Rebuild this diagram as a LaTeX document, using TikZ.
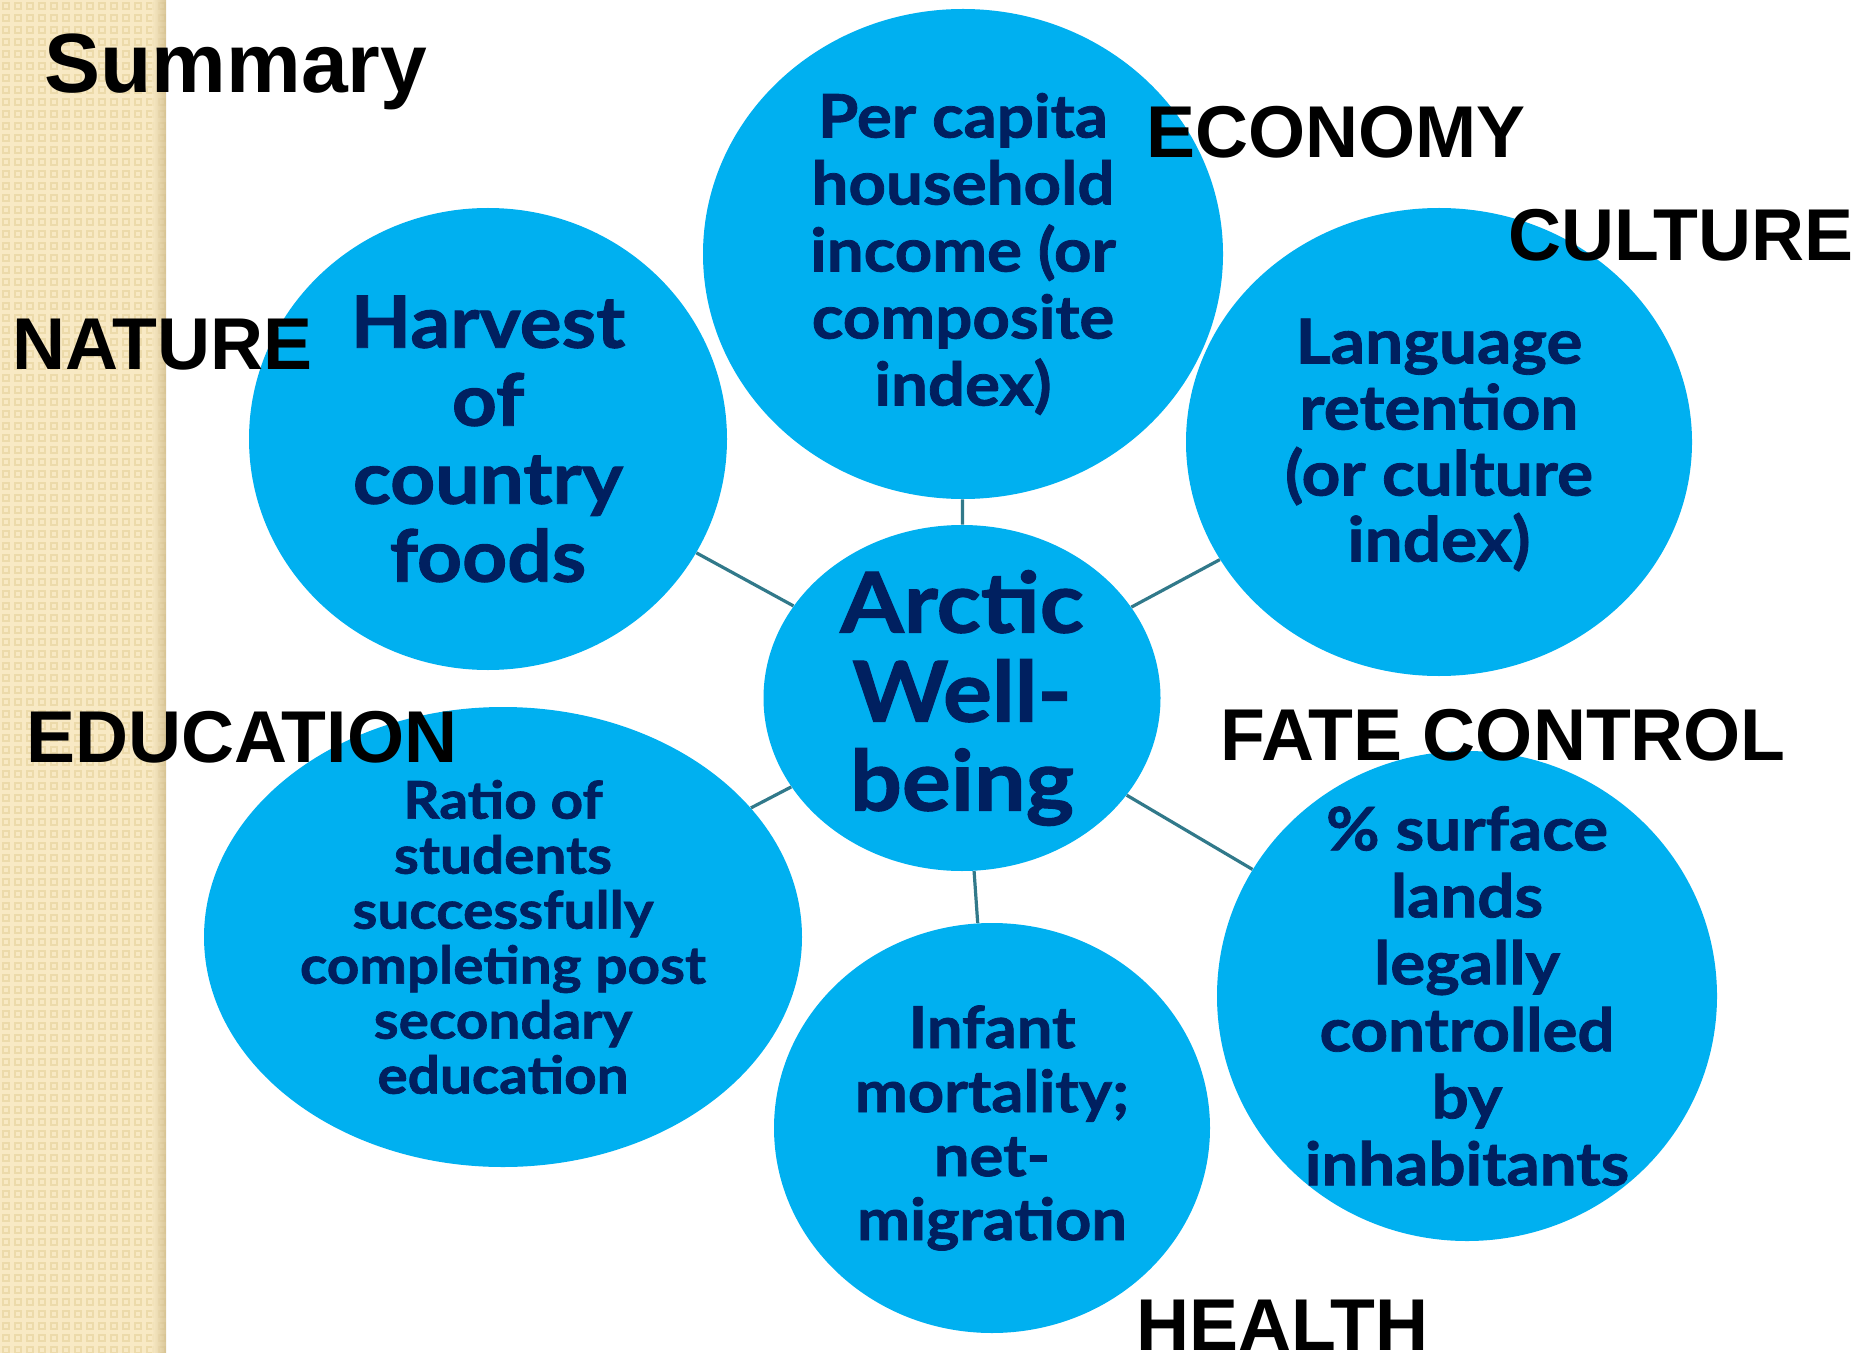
\documentclass[tikz,border=0pt]{standalone}
\usepackage{fontspec}
\setmainfont{Liberation Sans}
\newfontfamily\gill{Lato}[BoldFeatures={FakeStretch=1.09,FakeBold=1.3}]
\usetikzlibrary{shapes.geometric}
\definecolor{bub}{RGB}{0,176,240}
\definecolor{navy}{RGB}{0,32,96}
\definecolor{connc}{RGB}{49,121,138}
\definecolor{strip}{RGB}{248,233,196}
\definecolor{stripd}{RGB}{236,218,170}
\definecolor{stripsh}{RGB}{205,184,135}
\begin{document}
\begin{tikzpicture}[x=0.5pt,y=-0.5pt,
 bubble/.style={ellipse, fill=bub, inner sep=0pt},
 btext/.style={text=navy, align=center, inner sep=0pt},
 lab/.style={anchor=base west, font=\bfseries\fontsize{36.7}{40}\selectfont, inner sep=0pt},
 connector/.style={draw=connc, line width=1.6pt}]
\useasboundingbox (0,0) rectangle (1862,1353);
\fill[white] (0,0) rectangle (1862,1353);
% textured strip
\fill[strip] (0,0) rectangle (166,1353);
\foreach \i in {0,...,13}{
  \foreach \j in {0,...,112}{
    \fill[stripd] (\i*12+2,\j*12+2) rectangle ++(8,8);
    \fill[strip] (\i*12+4,\j*12+4) rectangle ++(4,4);
  }
}
\shade[left color=strip, right color=stripsh, opacity=0.7] (152,0) rectangle (166,1353);

% bubbles
\node[bubble, minimum width=198.5pt, minimum height=173pt] (c) at (962,698) {};
\node[bubble, minimum width=260pt, minimum height=245pt] (eco) at (963,254) {};
\node[bubble, minimum width=239pt, minimum height=231pt] (nat) at (488,439) {};
\node[bubble, minimum width=253pt, minimum height=234pt] (cul) at (1439,442) {};
\node[bubble, minimum width=299pt, minimum height=230pt] (edu) at (503,937) {};
\node[bubble, minimum width=218pt, minimum height=205pt] (hea) at (992,1128) {};
\node[bubble, minimum width=250pt, minimum height=245pt] (fat) at (1467,996) {};

% connectors
\draw[connector] (c) -- (eco);
\draw[connector] (c) -- (nat);
\draw[connector] (c) -- (cul);
\draw[connector] (c) -- (edu);
\draw[connector] (c) -- (hea);
\draw[connector] (c) -- (fat);

% bubble texts
\node[btext, font=\gill\bfseries\fontsize{42}{44.5}\selectfont] (tc) at (c.center) {Arctic\\Well-\\being};
\node[btext, font=\gill\bfseries\fontsize{30}{33.5}\selectfont] (teco) at (eco.center) {Per capita\\household\\income (or\\composite\\index)};
\node[btext, font=\gill\bfseries\fontsize{36}{39}\selectfont] (tnat) at (nat.center) {Harvest\\of\\country\\foods};
\node[btext, font=\gill\bfseries\fontsize{31}{33}\selectfont] (tcul) at (1439,445) {Language\\retention\\(or culture\\index)};
\node[btext, font=\gill\bfseries\fontsize{26}{27.5}\selectfont] (tedu) at (edu.center) {Ratio of\\students\\successfully\\completing post\\secondary\\education};
\node[btext, font=\gill\bfseries\fontsize{29}{32}\selectfont] (thea) at (hea.center) {Infant\\mortality;\\net-\\migration};
\node[btext, font=\gill\bfseries\fontsize{30}{33.5}\selectfont] (tfat) at (fat.center) {\% surface\\lands\\legally\\controlled\\by\\inhabitants};

% labels
\node[lab, font=\bfseries\fontsize{42}{46}\selectfont] (summary) at (44,93) {Summary};
\node[lab] (leco) at (1146,158) {ECONOMY};
\node[lab] (lcul) at (1508,261) {CULTURE};
\node[lab] (lnat) at (12,370) {NATURE};
\node[lab] (ledu) at (26,762) {EDUCATION};
\node[lab] (lfat) at (1220,760) {FATE CONTROL};
\node[lab] (lhea) at (1136,1350) {HEALTH};
\end{tikzpicture}
\end{document}
